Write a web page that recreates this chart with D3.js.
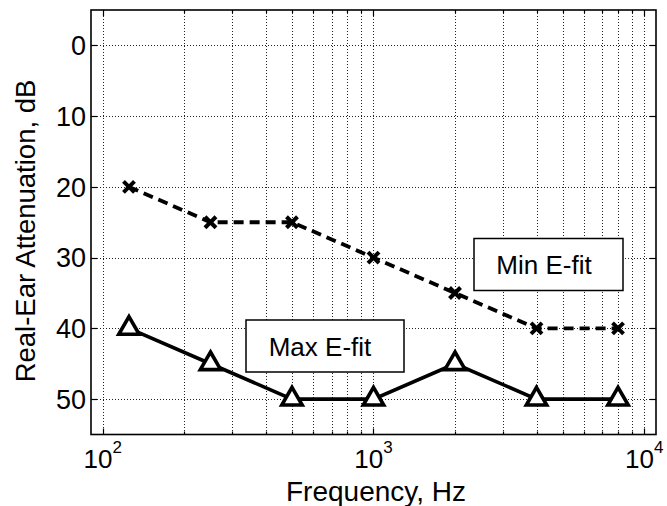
<!DOCTYPE html>
<html>
<head>
<meta charset="utf-8">
<script src="https://cdn.jsdelivr.net/npm/d3@7"></script>
<style>
  body { margin: 0; background: #fff; }
  svg { display: block; font-family: "Liberation Sans", Arial, Helvetica, sans-serif; }
</style>
</head>
<body>
<svg id="chart" width="667" height="506"></svg>
<script>
const width = 667
const height = 506

// data
const freqs = [125, 250, 500, 1000, 2000, 4000, 8000]
const minFit = [20, 25, 25, 30, 35, 40, 40]
const maxFit = [40, 45, 50, 50, 45, 50, 50]
const yTicks = [0, 10, 20, 30, 40, 50]
const xMajor = [100, 1000, 10000]
const xMinor = [200, 300, 400, 500, 600, 700, 800, 900,
  2000, 3000, 4000, 5000, 6000, 7000, 8000, 9000]

const plot = { left: 91, right: 656, top: 10, bottom: 434.5 }

const x = d3.scaleLog()
  .domain([90.5, 11050])
  .range([plot.left, plot.right])

const y = d3.scaleLinear()
  .domain([-5, 55])
  .range([plot.top, plot.bottom])

const svg = d3.select('#chart')

// grid
const grid = svg.append('g')
  .attr('stroke', '#222')
  .attr('stroke-width', 1)
  .attr('stroke-dasharray', '1,2')

grid.selectAll('line.vx')
  .data(xMajor.concat(xMinor))
  .join('line')
  .attr('x1', d => Math.round(x(d)) + 0.5)
  .attr('x2', d => Math.round(x(d)) + 0.5)
  .attr('y1', plot.top)
  .attr('y2', plot.bottom)

grid.selectAll('line.hy')
  .data(yTicks)
  .join('line')
  .attr('x1', plot.left)
  .attr('x2', plot.right)
  .attr('y1', d => Math.round(y(d)) + 0.5)
  .attr('y2', d => Math.round(y(d)) + 0.5)

// ticks (inside, on all four sides)
const ticks = svg.append('g').attr('stroke', '#000').attr('stroke-width', 1.2)
yTicks.forEach(d => {
  const yy = Math.round(y(d)) + 0.5
  ticks.append('line').attr('x1', plot.left).attr('x2', plot.left + 6).attr('y1', yy).attr('y2', yy)
  ticks.append('line').attr('x1', plot.right).attr('x2', plot.right - 6).attr('y1', yy).attr('y2', yy)
})
xMajor.concat(xMinor).forEach(d => {
  const xx = Math.round(x(d)) + 0.5
  const len = xMajor.includes(d) ? 6 : 3
  ticks.append('line').attr('x1', xx).attr('x2', xx).attr('y1', plot.bottom).attr('y2', plot.bottom - len)
  ticks.append('line').attr('x1', xx).attr('x2', xx).attr('y1', plot.top).attr('y2', plot.top + len)
})

// frame
svg.append('rect')
  .attr('x', plot.left)
  .attr('y', plot.top)
  .attr('width', plot.right - plot.left)
  .attr('height', plot.bottom - plot.top)
  .attr('fill', 'none')
  .attr('stroke', '#000')
  .attr('stroke-width', 1.6)

// y tick labels
svg.append('g')
  .selectAll('text')
  .data(yTicks)
  .join('text')
  .attr('x', plot.left - 5)
  .attr('y', d => y(d))
  .attr('dy', '0.36em')
  .attr('text-anchor', 'end')
  .attr('font-size', 27)
  .text(d => d)

// x tick labels, 10 with superscript exponent
const xl = svg.append('g')
  .selectAll('text')
  .data(xMajor)
  .join('text')
  .attr('x', d => x(d))
  .attr('y', 468)
  .attr('text-anchor', 'middle')
  .attr('font-size', 26)
xl.append('tspan').text('10')
xl.append('tspan')
  .attr('font-size', 17)
  .attr('dy', -15)
  .text(d => Math.round(Math.log10(d)))

// axis labels
svg.append('text')
  .attr('x', 376)
  .attr('y', 501)
  .attr('text-anchor', 'middle')
  .attr('font-size', 28)
  .text('Frequency, Hz')

svg.append('text')
  .attr('transform', 'translate(35,231) rotate(-90)')
  .attr('text-anchor', 'middle')
  .attr('font-size', 27.5)
  .text('Real-Ear Attenuation, dB')

// lines
const line = d3.line()
  .x((d, i) => x(freqs[i]))
  .y(d => y(d))

svg.append('path')
  .attr('d', line(minFit))
  .attr('fill', 'none')
  .attr('stroke', '#000')
  .attr('stroke-width', 3.8)
  .attr('stroke-dasharray', '10,6')

svg.append('path')
  .attr('d', line(maxFit))
  .attr('fill', 'none')
  .attr('stroke', '#000')
  .attr('stroke-width', 3.6)

// x markers
const cross = svg.append('g').attr('stroke', '#000').attr('stroke-width', 4)
minFit.forEach((d, i) => {
  const cx = x(freqs[i]), cy = y(d), r = 5.5
  cross.append('line').attr('x1', cx - r).attr('y1', cy - r).attr('x2', cx + r).attr('y2', cy + r)
  cross.append('line').attr('x1', cx - r).attr('y1', cy + r).attr('x2', cx + r).attr('y2', cy - r)
})

// triangle markers
svg.append('g')
  .selectAll('path')
  .data(maxFit)
  .join('path')
  .attr('transform', (d, i) => `translate(${x(freqs[i])},${y(d)})`)
  .attr('d', d3.symbol(d3.symbolTriangle, 180))
  .attr('fill', '#fff')
  .attr('stroke', '#000')
  .attr('stroke-width', 3.6)

// text boxes
function label(x0, y0, w, h, txt, tx, ty) {
  svg.append('rect')
    .attr('x', x0).attr('y', y0).attr('width', w).attr('height', h)
    .attr('fill', '#fff').attr('stroke', '#000').attr('stroke-width', 1.5)
  svg.append('text')
    .attr('x', tx).attr('y', ty)
    .attr('text-anchor', 'middle')
    .attr('font-size', 26)
    .text(txt)
}
label(474, 238.5, 149, 52, 'Min E-fit', 544, 273.5)
label(246, 320, 158, 52, 'Max E-fit', 320, 356)
</script>
</body>
</html>
